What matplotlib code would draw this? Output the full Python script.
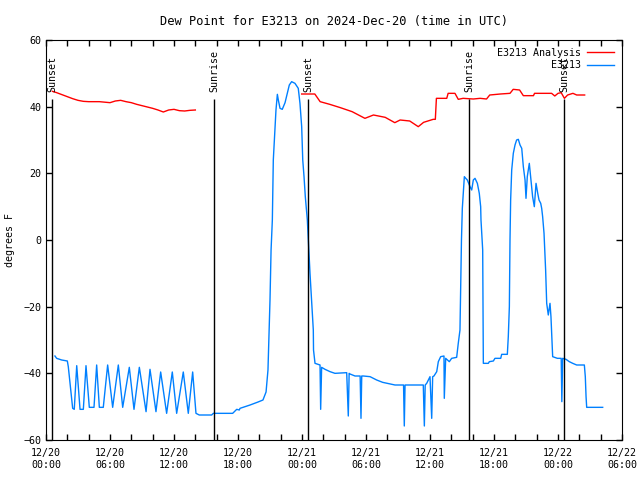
import matplotlib
matplotlib.use('Agg')
from matplotlib import pyplot as plt

# hours since 2024-12-20 00:00 UTC
ana_t1 = [0.6, 1.0, 1.5, 2.0, 2.5, 3.0, 3.5, 4.0, 5.0, 6.0, 6.5, 7.0, 7.5, 8.0, 8.5, 9.0,
          9.5, 10.0, 10.5, 11.0, 11.5, 12.0, 12.5, 13.0, 13.5, 14.0]
ana_v1 = [44.6, 44.2, 43.6, 43.0, 42.4, 41.9, 41.6, 41.5, 41.5, 41.2, 41.7, 41.9, 41.5, 41.2, 40.7, 40.3,
          39.9, 39.5, 39.0, 38.4, 39.0, 39.2, 38.8, 38.7, 38.9, 39.0]

ana_t2 = [23.97, 25.2, 25.7, 26.6, 27.6, 28.7, 29.9, 30.7, 31.8, 32.7, 33.2, 34.1, 34.9, 35.4,
          36.3, 36.5, 36.6, 37.57, 37.7, 38.34, 38.65, 39.1, 40.06, 40.7, 41.3, 41.6, 42.6, 43.5,
          43.8, 44.4, 44.75, 45.7, 45.8, 47.4, 47.7, 48.0, 48.3, 48.6, 48.9, 49.4, 49.75, 50.5]
ana_v2 = [43.8, 43.8, 41.5, 40.7, 39.7, 38.5, 36.5, 37.5, 36.8, 35.2, 36.0, 35.7, 34.0, 35.3,
          36.2, 36.2, 42.5, 42.5, 44.0, 44.0, 42.2, 42.5, 42.3, 42.5, 42.3, 43.5, 43.8, 44.0,
          45.2, 45.0, 43.3, 43.3, 44.0, 44.0, 43.2, 44.0, 44.2, 42.5, 43.5, 44.0, 43.5, 43.5]

obs_t = [0.84, 1.0, 1.47, 2.0, 2.09, 2.5, 2.65,
         2.88, 3.19, 3.5, 3.75, 4.06, 4.5, 4.75, 5.0, 5.37, 5.78, 6.25, 6.78, 7.19,
         7.81, 8.25, 8.75, 9.38, 9.75, 10.31, 10.75, 11.31, 11.84, 12.25, 12.87, 13.34, 13.75,
         14.06, 14.37, 15.53, 15.69, 17.5, 17.88, 18.12, 18.19, 19.13, 19.88, 20.34, 20.63,
         20.81, 21.0, 21.1, 21.22, 21.31, 21.47, 21.56, 21.69, 21.78, 21.94, 22.15, 22.41,
         22.62, 22.81, 23.03, 23.34, 23.65, 23.81, 23.97, 24.07, 24.19, 24.31, 24.5, 24.75,
         25.06, 25.08, 25.22, 25.69, 25.75, 25.84, 26.16, 26.63, 27.09, 28.19, 28.34, 28.42,
         28.5, 28.97, 29.45, 29.53, 29.6, 29.75, 30.38, 31.0, 31.56, 32.72, 33.52, 33.59,
         33.66, 35.37, 35.47, 35.55, 35.69, 36.0, 36.16, 36.25, 36.37, 36.63, 36.78, 37.0,
         37.31, 37.34, 37.47, 37.81, 38.03, 38.5, 38.65, 38.81, 38.95, 39.03, 39.22, 39.35,
         39.5, 39.75, 39.91, 40.06, 40.22, 40.44, 40.62, 40.75, 40.78, 40.94, 40.97, 41.0,
         41.47, 41.56, 41.94, 42.09, 42.63, 42.72, 43.25, 43.34, 43.44, 43.5, 43.56, 43.66,
         43.81, 43.97, 44.12, 44.28, 44.44, 44.6, 44.75, 44.91, 45.0, 45.12, 45.31, 45.47,
         45.62, 45.78, 45.94, 46.1, 46.22, 46.38, 46.47, 46.56, 46.69, 46.84, 46.94, 47.09,
         47.25, 47.34, 47.44, 47.5, 47.94, 48.3, 48.36, 48.44, 48.75, 49.06, 49.38, 49.75,
         50.47, 50.56, 50.63, 50.69, 52.19]
obs_v = [-34.8, -35.5, -36.0, -36.3, -38.0, -50.5, -50.8,
         -37.7, -50.8, -50.8, -37.7, -50.2, -50.2, -37.5, -50.2, -50.2, -37.5, -50.2, -37.5, -50.2,
         -38.2, -50.8, -38.2, -51.5, -38.8, -51.5, -39.6, -52.0, -39.6, -52.0, -39.6, -52.0, -39.6,
         -52.0, -52.5, -52.5, -52.0, -52.0, -50.8, -51.0, -50.5, -49.5, -48.6, -48.0, -45.6,
         -39.0, -18.0, -3.0, 6.0, 24.0, 33.5, 39.0, 43.7, 42.0, 39.5, 39.2, 41.2,
         44.0, 46.5, 47.5, 47.0, 45.5, 41.0, 34.0, 24.0, 19.0, 13.0, 6.0, -10.0,
         -27.0, -33.0, -37.0, -37.5, -50.8, -38.2, -38.8, -39.5, -40.0, -39.8, -52.8, -40.0,
         -40.2, -40.8, -40.8, -53.5, -40.8, -40.8, -41.0, -42.0, -42.7, -43.5, -43.5, -55.8,
         -43.5, -43.5, -55.8, -43.5, -43.0, -41.0, -53.5, -41.0, -40.8, -39.5, -36.5, -35.0,
         -34.8, -47.5, -35.5, -36.5, -35.5, -35.2, -31.0, -27.0, 0.0, 9.5, 19.0, 18.5,
         18.0, 16.0, 15.0, 18.0, 18.5, 17.0, 14.0, 10.0, 6.0, -3.0, -22.0, -37.0,
         -37.0, -36.5, -36.3, -35.5, -35.5, -34.3, -34.3, -29.0, -20.0, 0.0, 12.0, 21.0,
         26.0, 28.5, 30.0, 30.2, 28.5, 27.5, 22.0, 18.0, 12.5, 19.0, 23.0, 18.0,
         13.0, 10.0, 17.0, 14.0, 12.0, 11.0, 9.5, 7.0, 2.0, -9.0, -19.0, -22.5,
         -19.0, -23.0, -31.0, -35.0, -35.5, -35.5, -48.5, -35.5, -35.8, -36.5, -37.0, -37.5,
         -37.5, -41.0, -47.0, -50.2, -50.2]

sun_t = [0.57, 15.75, 24.57, 39.66, 48.57]
sun_lbl = ['Sunset', 'Sunrise', 'Sunset', 'Sunrise', 'Sunset']

tick_hr = [0, 6, 12, 18, 24, 30, 36, 42, 48, 54]
tick_lbl = ['12/20\n00:00', '12/20\n06:00', '12/20\n12:00', '12/20\n18:00', '12/21\n00:00',
            '12/21\n06:00', '12/21\n12:00', '12/21\n18:00', '12/22\n00:00', '12/22\n06:00']

plt.rcParams['font.family'] = ['DejaVu Sans Mono']
plt.rcParams['font.size'] = 7.2

fig = plt.figure(figsize=(6.4, 4.8), dpi=100)
ax = fig.add_axes([46 / 640, 40 / 480, 576 / 640, 400 / 480])

ax.plot(ana_t1, ana_v1, color='#ff0000', lw=1, label='E3213 Analysis')
ax.plot(ana_t2, ana_v2, color='#ff0000', lw=1)
ax.plot(obs_t, obs_v, color='#0080ff', lw=1, label='E3213')

for t, s in zip(sun_t, sun_lbl):
    ax.vlines(t, -60, 42.3, color='black', lw=1)
    ax.text(t + 0.05, 44.4, s, rotation=90, ha='center', va='bottom')

ax.set_xlim(0, 54)
ax.set_ylim(-60, 60)
ax.set_xticks(tick_hr)
ax.set_xticklabels(tick_lbl)
ax.set_xticks(range(0, 55, 2), minor=True)
ax.set_yticks(range(-60, 61, 20))
ax.tick_params(which='both', direction='in', top=True, right=True, length=4, width=1)
ax.tick_params(axis='x', pad=6)
ax.set_ylabel('degrees F', labelpad=6)
ax.set_title('Dew Point for E3213 on 2024-Dec-20 (time in UTC)', pad=11)

ax.legend(loc='upper right', frameon=False, markerfirst=False,
          handlelength=2.7, borderaxespad=0.6, borderpad=0.2, labelspacing=0.25, handletextpad=0.6)

fig.savefig('out.png', dpi=100)
